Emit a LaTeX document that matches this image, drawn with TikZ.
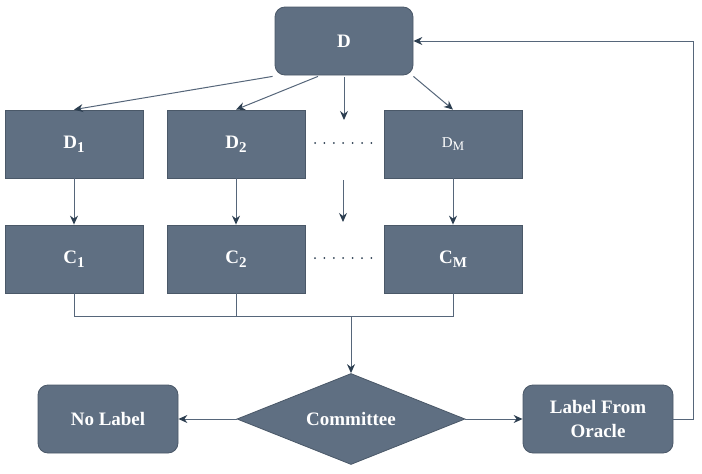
\documentclass[tikz,border=0pt]{standalone}
\usepackage{fontspec}
\setmainfont{Liberation Serif}
\usetikzlibrary{shapes.geometric,arrows.meta,calc}
\definecolor{boxfill}{HTML}{5F6F82}
\definecolor{boxdraw}{HTML}{4A5868}
\definecolor{linecol}{HTML}{56667A}
\definecolor{headcol}{HTML}{2C3E50}
\newcommand{\mysub}[1]{\raisebox{-0.22em}{\fontsize{15}{15}\selectfont #1}}
\tikzset{
  sqbox/.style={rectangle, fill=boxfill, draw=boxdraw, line width=0.8pt,
    minimum width=138pt, minimum height=68pt, inner sep=2pt,
    text=white, font=\fontsize{19}{24}\selectfont\bfseries, align=center},
  rbox/.style={sqbox, rounded corners=10pt},
  decis/.style={diamond, fill=boxfill, draw=boxdraw, line width=0.8pt,
    minimum width=228pt, minimum height=91pt, inner sep=0pt, aspect=2.5,
    text=white, font=\fontsize{19}{24}\selectfont\bfseries},
  conn/.style={draw=linecol, line width=1pt},
  arr/.style={conn, -{Stealth[length=9pt,width=8pt,inset=3pt,color=headcol]}},
  dotrow/.style={draw=headcol, line width=2pt, line cap=round,
    dash pattern=on 0pt off 9.4pt},
}
\begin{document}
\begin{tikzpicture}[x=1pt,y=-1pt]
\useasboundingbox (0,0) rectangle (702,474);
% nodes
\node[rbox] (D) at (344,41) {D};
\node[sqbox] (D1) at (74,144) {D\mysub{1}};
\node[sqbox] (D2) at (236,144) {D\mysub{2}};
\node[sqbox, font=\fontsize{15}{18}\selectfont] (DM) at (453,144) {D\raisebox{-0.2em}{\fontsize{13}{13}\selectfont M}};
\node[sqbox] (C1) at (74,259) {C\mysub{1}};
\node[sqbox] (C2) at (236,259) {C\mysub{2}};
\node[sqbox] (CM) at (453,259) {C\mysub{M}};
\node[decis] (comm) at (351,419) {Committee};
\node[rbox, minimum width=140pt] (nolab) at (108,419) {No Label};
\node[rbox, minimum width=150pt] (oracle) at (598,419) {Label From\\Oracle};
% free coordinates
\coordinate (m0) at (344,120);
\coordinate (m1) at (343,180);
\coordinate (m2) at (343,222);
\coordinate (bus) at (351,316);
\coordinate (fb) at (693,419);
% dots
\draw[dotrow] (315,143) -- (372,143);
\draw[dotrow] (315,258) -- (372,258);
% arrows from D
\draw[arr] ([xshift=-2pt,yshift=-1pt]D.south west) -- (D1.north);
\draw[arr] ([xshift=-26pt,yshift=-1pt]D.south) -- (D2.north);
\draw[arr] ([yshift=-2pt]D.south) -- (m0);
\draw[arr] ([yshift=-1pt]D.south east) -- (DM.north);
% D -> C
\draw[arr] (D1.south) -- (C1.north);
\draw[arr] (D2.south) -- (C2.north);
\draw[arr] (m1) -- (m2);
\draw[arr] (DM.south) -- (CM.north);
% bus
\draw[conn] (C1.south) |- (bus);
\draw[conn] (CM.south) |- (bus);
\draw[conn] (C2.south) -- (C2.south |- bus);
\draw[arr] (bus) -- (comm.north);
% committee outputs
\draw[arr] (comm.west) -- (nolab.east);
\draw[arr] (comm.east) -- (oracle.east -| oracle.west);
% feedback
\draw[arr] (oracle.east) -- (fb) |- (D.east);
\end{tikzpicture}
\end{document}
